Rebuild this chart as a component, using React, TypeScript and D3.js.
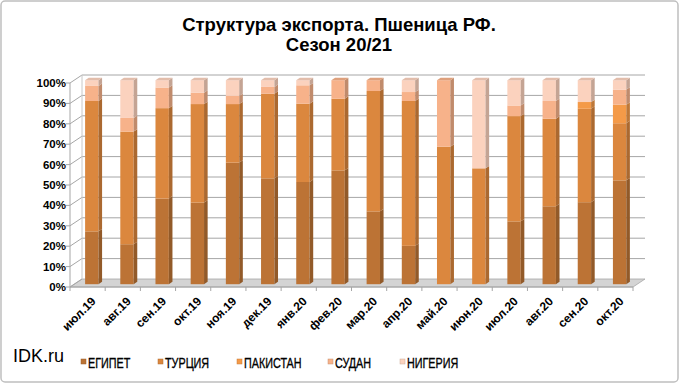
import React from "react";
import * as d3 from "d3";

const months = ["июл.19","авг.19","сен.19","окт.19","ноя.19","дек.19","янв.20","фев.20","мар.20","апр.20","май.20","июн.20","июл.20","авг.20","сен.20","окт.20"];
const seriesNames = ["ЕГИПЕТ", "ТУРЦИЯ", "ПАКИСТАН", "СУДАН", "НИГЕРИЯ"];
const egypt = [25.9,19.6,42.0,40.0,59.6,51.9,50.1,55.8,35.7,18.8,0,0,30.8,38.2,40.2,50.9];
const turkey = [63.9,55.2,44.3,48.3,28.7,41.5,38.4,35.1,59.0,71.0,67.4,56.8,51.6,42.9,45.8,28.0];
const pakistan = [0,0,0,0,0,0,0,0,0,0,0,0,0,0,3.3,9.1];
const sudan = [7.4,6.7,10.1,5.6,4.0,3.3,9.0,9.1,5.3,4.4,32.6,0,5.2,8.7,0,7.4];
const nigeria = [2.8,18.5,3.6,6.1,7.7,3.3,2.5,0,0,5.8,0,43.2,12.4,10.2,10.7,4.6];
const yTicks = [0,10,20,30,40,50,60,70,80,90,100];

const colors = ["#BC7335", "#DB873E", "#F49A48", "#F7B28A", "#FBD2BE"];

const W = 680, H = 384;
const DX = 12, DY = -8;

export default function App() {
  const keys = ["egypt", "turkey", "pakistan", "sudan", "nigeria"];
  const table = months.map((m, i) => ({
    month: m, egypt: egypt[i], turkey: turkey[i], pakistan: pakistan[i], sudan: sudan[i], nigeria: nigeria[i],
  }));
  const stacked = d3.stack<any>().keys(keys)(table);

  const x = d3.scaleBand().domain(months).range([70, 633]);
  const y = d3.scaleLinear().domain([0, 100]).range([287, 83]);
  const bw = x.bandwidth() * 0.38;
  const bx = DX * 0.35, by = DY * 0.35;
  const ddx = 3.6, ddy = -2.4;

  const x0 = 70, x1 = 633;
  const font = "Arial, 'Liberation Sans', sans-serif";

  const bars: any[] = [];
  months.forEach((m, i) => {
    const cx = (x(m) as number) + x.bandwidth() / 2 + bx;
    const left = cx - bw / 2;
    const right = cx + bw / 2;
    let topIdx = -1;
    stacked.forEach((s, k) => {
      const d = s[i];
      if (d[1] - d[0] <= 0) return;
      topIdx = k;
      const yb = y(d[0]) + by;
      const yt = y(d[1]) + by;
      const c = d3.color(colors[k]) as any;
      bars.push(
        <g key={`${i}-${k}`}>
          <rect x={left} y={yt} width={bw} height={yb - yt} fill={colors[k]} />
          <polygon
            points={`${right},${yb} ${right + ddx},${yb + ddy} ${right + ddx},${yt + ddy} ${right},${yt}`}
            fill={c.darker(0.7).toString()}
          />
        </g>
      );
    });
    if (topIdx >= 0) {
      const yt = y(100) + by;
      const c = d3.color(colors[topIdx]) as any;
      bars.push(
        <polygon key={`top-${i}`}
          points={`${left},${yt} ${right},${yt} ${right + ddx},${yt + ddy} ${left + ddx},${yt + ddy}`}
          fill={c.darker(0.3).toString()}
        />
      );
    }
  });

  const legendX = [81, 158, 237, 328, 400];

  return (
    <svg width={W} height={H} style={{ position: "absolute", left: 0, top: 0 }}>
      <rect x={1} y={1} width={677} height={381} rx={4} fill="#fff" stroke="#bfbfbf" strokeWidth={1.5} />
      <text x={339} y={31} textAnchor="middle" fontFamily={font} fontWeight="bold" fontSize={18.5}>Структура экспорта. Пшеница РФ.</text>
      <text x={339} y={51} textAnchor="middle" fontFamily={font} fontWeight="bold" fontSize={18.5}>Сезон 20/21</text>

      <polygon points={`${x0},${y(0)} ${x1},${y(0)} ${x1 + DX},${y(0) + DY} ${x0 + DX},${y(0) + DY}`} fill="#d4d4d4" stroke="#a6a6a6" strokeWidth={0.8} />
      {yTicks.map(t => (
        <g key={`g${t}`}>
          {t > 0 && <line x1={x0 + DX} x2={x1 + DX} y1={y(t) + DY} y2={y(t) + DY} stroke="#a6a6a6" strokeWidth={1} />}
          <line x1={x0} x2={x0 + DX} y1={y(t)} y2={y(t) + DY} stroke="#a6a6a6" strokeWidth={1} />
          <line x1={x0 - 4} x2={x0} y1={y(t)} y2={y(t)} stroke="#a6a6a6" strokeWidth={1} />
          <text x={66} y={y(t)} dy="0.35em" textAnchor="end" fontFamily={font} fontWeight="bold" fontSize={11.5}>{t}%</text>
        </g>
      ))}
      <line x1={x0} x2={x0} y1={y(0)} y2={y(100)} stroke="#a6a6a6" strokeWidth={1} />
      <line x1={x0 + DX} x2={x0 + DX} y1={y(0) + DY} y2={y(100) + DY} stroke="#c8c8c8" strokeWidth={1} />
      <line x1={x0} x2={x1} y1={y(0)} y2={y(0)} stroke="#a6a6a6" strokeWidth={1} />

      {bars}

      {months.map((m, i) => (
        <line key={`t${i}`} x1={x(m) as number} x2={x(m) as number} y1={y(0)} y2={y(0) + 4} stroke="#a6a6a6" />
      ))}
      <line x1={x1} x2={x1} y1={y(0)} y2={y(0) + 4} stroke="#a6a6a6" />
      {months.map(m => {
        const cx = (x(m) as number) + x.bandwidth() / 2 + 9;
        return (
          <text key={`l${m}`} transform={`translate(${cx},${302}) rotate(-45)`} textAnchor="end"
            fontFamily={font} fontWeight="bold" fontSize={12}>{m}</text>
        );
      })}

      <text x={13} y={362} fontFamily={font} fontSize={18}>IDK.ru</text>
      {seriesNames.map((n, k) => (
        <g key={n}>
          <rect x={legendX[k]} y={359} width={5} height={5} fill={colors[k]} stroke={(d3.color(colors[k]) as any).darker(0.6).toString()} strokeWidth={0.5} />
          <text transform={`translate(${legendX[k] + 7},${367.5}) scale(0.72,1)`} fontFamily={font} fontSize={15}
            stroke="#000" strokeWidth={0.35}>{n}</text>
        </g>
      ))}
    </svg>
  );
}
